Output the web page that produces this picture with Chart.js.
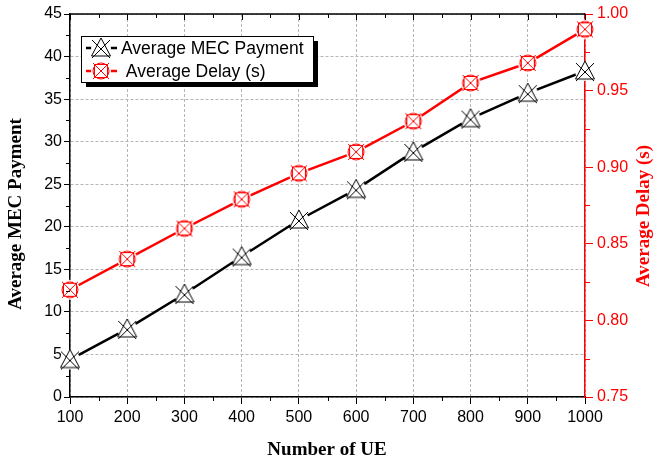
<!DOCTYPE html>
<html>
<head>
<meta charset="utf-8">
<script src="https://cdn.jsdelivr.net/npm/chart.js@4.4.0/dist/chart.umd.min.js"></script>
<style>
  html, body { margin: 0; padding: 0; background: #fff; }
</style>
</head>
<body>
<canvas id="chart" width="655" height="461"></canvas>
<script>
// data
const ueCounts = [100, 200, 300, 400, 500, 600, 700, 800, 900, 1000];
const mecPayment = [4.4, 8.0, 12.1, 16.5, 20.8, 24.4, 28.8, 32.7, 35.7, 38.3];
const avgDelay = [0.820, 0.840, 0.860, 0.879, 0.896, 0.910, 0.930, 0.955, 0.968, 0.990];
const seriesNames = ['Average MEC Payment', 'Average Delay (s)'];

const FONT = '"Liberation Sans", Arial, sans-serif';
const SERIF = '"Liberation Serif", "Times New Roman", serif';
const RED = '#ff0000';

// marker images (Origin style: triangle + cross, circle + box + cross)
function makeMarker(kind) {
  const c = document.createElement('canvas');
  c.width = 24; c.height = 24;
  const g = c.getContext('2d');
  g.fillStyle = '#fff';
  g.beginPath(); g.arc(12, 12, 10, 0, Math.PI * 2); g.fill();
  g.lineWidth = 1;
  if (kind === 'tri') {
    g.strokeStyle = '#000';
    g.beginPath();
    g.moveTo(12, 2); g.lineTo(2.5, 20); g.lineTo(21.5, 20); g.closePath();
    g.moveTo(3, 4); g.lineTo(21, 22);
    g.moveTo(21, 4); g.lineTo(3, 22);
    g.stroke();
  } else {
    g.strokeStyle = RED;
    g.beginPath(); g.arc(12, 12, 8, 0, Math.PI * 2); g.stroke();
    g.strokeRect(5.5, 5.5, 13, 13);
    g.beginPath();
    g.moveTo(4, 4); g.lineTo(20, 20);
    g.moveTo(20, 4); g.lineTo(4, 20);
    g.stroke();
  }
  return c;
}
const triMarker = makeMarker('tri');
const circMarker = makeMarker('circ');

const toPoints = (ys) => ueCounts.map((x, i) => ({ x: x, y: ys[i] }));

// minor ticks, top frame, axis titles
const decorPlugin = {
  id: 'decor',
  afterDraw(chart) {
    const ctx = chart.ctx;
    const a = chart.chartArea;
    const xs = chart.scales.x, yl = chart.scales.y, yr = chart.scales.y1;
    ctx.save();
    ctx.lineWidth = 1.5;
    // top frame
    ctx.strokeStyle = '#000';
    ctx.beginPath(); ctx.moveTo(a.left, a.top); ctx.lineTo(a.right, a.top); ctx.stroke();
    ctx.lineWidth = 1;
    // bottom minor + top ticks
    ctx.beginPath();
    for (let v = 100; v <= 1000; v += 50) {
      const px = Math.round(xs.getPixelForValue(v)) + 0.5;
      const major = v % 100 === 0;
      if (!major) { ctx.moveTo(px, a.bottom); ctx.lineTo(px, a.bottom + 4); }
      ctx.moveTo(px, a.top); ctx.lineTo(px, a.top + (major ? 6 : 4));
    }
    // left minor
    for (let v = 2.5; v < 45; v += 5) {
      const py = Math.round(yl.getPixelForValue(v)) + 0.5;
      ctx.moveTo(a.left, py); ctx.lineTo(a.left - 4, py);
    }
    ctx.stroke();
    // right minor
    ctx.strokeStyle = RED;
    ctx.beginPath();
    for (let v = 0.775; v < 1; v += 0.05) {
      const py = Math.round(yr.getPixelForValue(v)) + 0.5;
      ctx.moveTo(a.right, py); ctx.lineTo(a.right + 5, py);
    }
    ctx.stroke();

    // axis titles
    ctx.font = 'bold 19px ' + SERIF;
    ctx.textAlign = 'center';
    ctx.textBaseline = 'middle';
    ctx.fillStyle = '#000';
    ctx.fillText('Number of UE', 327, 450);
    ctx.save();
    ctx.translate(16, 214); ctx.rotate(-Math.PI / 2);
    ctx.fillText('Average MEC Payment', 0, 0);
    ctx.restore();
    ctx.save();
    ctx.fillStyle = RED;
    ctx.translate(644, 216); ctx.rotate(-Math.PI / 2);
    ctx.fillText('Average Delay (s)', 0, 0);
    ctx.restore();
    ctx.restore();
  }
};

// boxed legend with drop shadow
const legendBoxPlugin = {
  id: 'legendBox',
  afterDatasetsDraw(chart) {
    const ctx = chart.ctx;
    const bx = 81, by = 36, bw = 232, bh = 46;
    ctx.save();
    ctx.fillStyle = '#000';
    ctx.fillRect(bx + 5, by + 5, bw, bh);
    ctx.fillStyle = '#fff';
    ctx.fillRect(bx, by, bw, bh);
    ctx.strokeStyle = '#000';
    ctx.lineWidth = 1;
    ctx.strokeRect(bx + 0.5, by + 0.5, bw, bh);
    const rows = [
      { y: 48, color: '#000', img: triMarker, text: seriesNames[0], tx: 121 },
      { y: 71, color: RED, img: circMarker, text: ' ' + seriesNames[1], tx: 121 }
    ];
    ctx.font = '17.5px ' + FONT;
    ctx.textBaseline = 'middle';
    rows.forEach(r => {
      ctx.strokeStyle = r.color;
      ctx.lineWidth = 2.5;
      ctx.beginPath(); ctx.moveTo(86, r.y); ctx.lineTo(117, r.y); ctx.stroke();
      ctx.drawImage(r.img, 101 - 12, r.y - 12);
      ctx.fillStyle = '#000';
      ctx.fillText(r.text, r.tx, r.y + 1);
    });
    ctx.restore();
  }
};

const data = {
  datasets: [
    {
      label: seriesNames[0],
      data: toPoints(mecPayment),
      yAxisID: 'y',
      borderColor: '#000',
      borderWidth: 2.5,
      pointStyle: triMarker,
      pointRadius: 10,
      tension: 0
    },
    {
      label: seriesNames[1],
      data: toPoints(avgDelay),
      yAxisID: 'y1',
      borderColor: RED,
      borderWidth: 2.5,
      pointStyle: circMarker,
      pointRadius: 10,
      tension: 0
    }
  ]
};

const options = {
  responsive: false,
  animation: false,
  devicePixelRatio: 1,
  clip: false,
  layout: { padding: { top: 14, left: 0, right: 0, bottom: 0 } },
  plugins: { legend: { display: false }, tooltip: { enabled: false } },
  scales: {
    x: {
      type: 'linear',
      position: 'bottom',
      min: 100, max: 1000,
      afterFit: (s) => { s.height = 64; },
      ticks: { stepSize: 100, color: '#000', font: { family: FONT, size: 16 }, padding: 4, maxRotation: 0,
        callback: (v) => String(v) },
      grid: { color: '#b4b4b4', lineWidth: 1, drawTicks: true, tickLength: 7, tickColor: '#000', tickWidth: 1 },
      border: { color: '#000', width: 1.5, dash: [3, 2] }
    },
    y: {
      position: 'left',
      min: 0, max: 45,
      afterFit: (s) => { s.width = 70; },
      ticks: { stepSize: 5, color: '#000', font: { family: FONT, size: 16 }, padding: 2 },
      grid: { color: '#b4b4b4', lineWidth: 1, drawTicks: true, tickLength: 6, tickColor: '#000', tickWidth: 1 },
      border: { color: '#000', width: 1.5, dash: [3, 2] }
    },
    y1: {
      position: 'right',
      min: 0.75, max: 1.0,
      afterFit: (s) => { s.width = 70; },
      ticks: { stepSize: 0.05, color: RED, font: { family: FONT, size: 16 }, padding: 4,
        callback: (v) => v.toFixed(2) },
      grid: { drawOnChartArea: false, drawTicks: true, tickLength: 8, tickColor: RED, tickWidth: 1 },
      border: { color: RED, width: 1.5 }
    }
  }
};

new Chart(document.getElementById('chart').getContext('2d'), {
  type: 'line',
  data: data,
  options: options,
  plugins: [legendBoxPlugin, decorPlugin]
});
</script>
</body>
</html>
